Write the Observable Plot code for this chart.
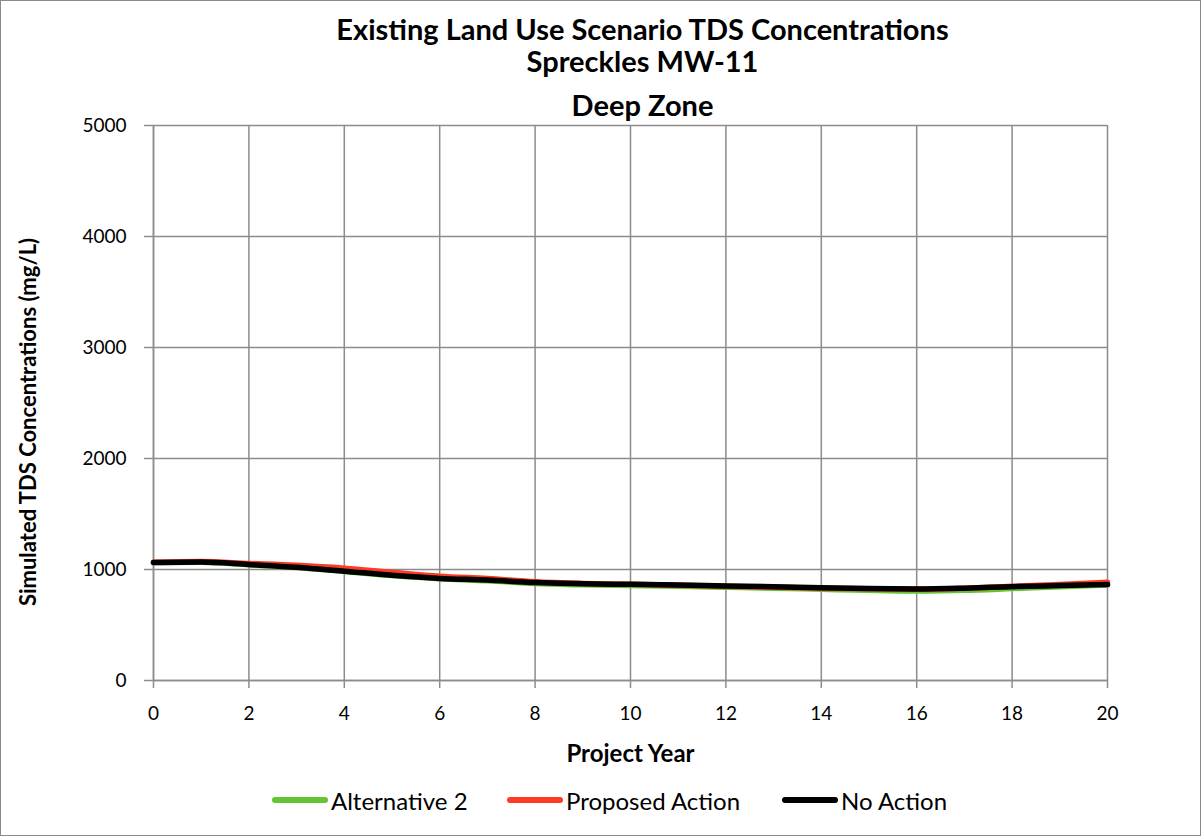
<!DOCTYPE html>
<html>
<head>
<meta charset="utf-8">
<script src="https://cdn.jsdelivr.net/npm/d3@7"></script>
<script src="https://cdn.jsdelivr.net/npm/@observablehq/plot@0.6"></script>
<style>
  body { margin: 0; background: #fff; font-family: Lato, "Open Sans", sans-serif; }
  #wrap { position: relative; width: 1203px; height: 838px; }
  #border { position: absolute; left: 0; top: 0; width: 1199px; height: 834px; border: 1px solid #8a8a8a; }
  .title { position: absolute; left: 41px; width: 1203px; text-align: center; font-weight: bold; font-size: 29px; color: #000; line-height: 1; }
  #legend { position: absolute; top: 786px; left: 0; width: 1203px; height: 28px; }
  .li { position: absolute; top: 0; height: 28px; display: flex; align-items: center; font-size: 24px; color: #000; }
  .sw { width: 56px; height: 5.5px; border-radius: 3px; margin-right: 3px; }
  #chart { position: absolute; left: 0; top: 0; }
</style>
</head>
<body>
<div id="wrap">
  <div id="border"></div>
  <div id="chart"></div>
  <div class="title" style="top:14px">Existing Land Use Scenario TDS Concentrations</div>
  <div class="title" style="top:46px">Spreckles MW-11</div>
  <div class="title" style="top:90px">Deep Zone</div>
  <div id="legend"></div>
</div>
<script>
const years = [0,1,2,3,4,5,6,7,8,9,10,11,12,13,14,15,16,17,18,19,20];
const alternative2 = [1063,1066,1043,1018,983,945,916,898,873,862,855,848,840,832,822,812,806,812,828,845,860];
const proposedAction = [1065,1072,1055,1038,1012,975,940,918,890,875,866,858,848,840,832,826,824,832,848,865,885];
const noAction = [1063,1068,1045,1020,985,948,920,905,882,872,866,860,852,845,835,828,825,832,845,855,865];

const seriesNames = ["Alternative 2", "Proposed Action", "No Action"];
const seriesColors = ["#66c434", "#ff3b24", "#000000"];
const seriesValues = [alternative2, proposedAction, noAction];

const yTicks = [0,1000,2000,3000,4000,5000];
const xTicks = [0,2,4,6,8,10,12,14,16,18,20];

const data = [];
seriesNames.forEach((name, i) => {
  years.forEach((yr, j) => data.push({series: name, year: yr, value: seriesValues[i][j]}));
});

const gridColor = "#8c8c8c";

const chart = Plot.plot({
  width: 1203,
  height: 838,
  marginLeft: 153,
  marginRight: 96,
  marginTop: 125,
  marginBottom: 158,
  style: {fontFamily: "Lato, 'Open Sans', sans-serif", fontSize: "19px", color: "#000", background: "transparent"},
  x: {domain: [0, 20], ticks: xTicks, label: null},
  y: {domain: [0, 5000], ticks: yTicks, label: null},
  color: {domain: seriesNames, range: seriesColors},
  marks: [
    Plot.gridX(xTicks, {stroke: gridColor, strokeOpacity: 1, strokeWidth: 1.5}),
    Plot.gridY(yTicks, {stroke: gridColor, strokeOpacity: 1, strokeWidth: 1.5}),
    Plot.axisX({ticks: xTicks, tickSize: 8, tickPadding: 18, stroke: gridColor, strokeWidth: 1.5, fontSize: 19, label: null}),
    Plot.axisY({ticks: yTicks, tickSize: 9, tickPadding: 18, tickFormat: "d", stroke: gridColor, strokeWidth: 1.5, fontSize: 19, label: null}),
    Plot.ruleX([0], {stroke: gridColor, strokeWidth: 1.5}),
    Plot.ruleY([0], {stroke: gridColor, strokeWidth: 1.5}),
    Plot.line(data, {x: "year", y: "value", z: "series", stroke: "series", strokeWidth: 5.5, curve: "monotone-x"}),
    Plot.text(["Project Year"], {frameAnchor: "bottom", dy: 81, fontSize: 24, fontWeight: "bold", fill: "#000"}),
    Plot.text(["Simulated TDS Concentrations (mg/L)"], {frameAnchor: "left", textAnchor: "middle", dx: -125, dy: 19, rotate: -90, fontSize: 22, fontWeight: "bold", fill: "#000"})
  ]
});
document.getElementById("chart").appendChild(chart);

const legendPos = [272, 507, 782];
const legend = document.getElementById("legend");
seriesNames.forEach((name, i) => {
  const item = document.createElement("div");
  item.className = "li";
  item.style.left = legendPos[i] + "px";
  const sw = document.createElement("div");
  sw.className = "sw";
  sw.style.background = seriesColors[i];
  const t = document.createElement("span");
  t.textContent = name;
  item.appendChild(sw);
  item.appendChild(t);
  legend.appendChild(item);
});
</script>
</body>
</html>
